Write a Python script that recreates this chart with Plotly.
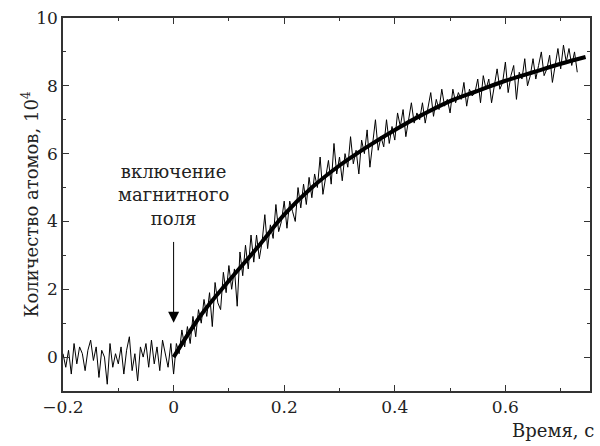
import numpy as np
import plotly.graph_objects as go

# Measured (noisy) signal, time step 0.005 s starting at -0.2 s
noisy_pre = [0.1, -0.3, 0.2, -0.5, 0.4, -0.2, 0.3, 0.1, -0.4, 0.2,
             0.5, -0.1, 0.3, -0.6, 0.2, 0.0, -0.8, 0.4, -0.3, 0.1,
             -0.2, 0.3, -0.5, 0.2, 0.6, -0.4, 0.1, -0.7, 0.3, 0.0,
             0.4, -0.3, 0.5, -0.2, 0.3, -0.4, 0.5, 0.1, -0.3, 0.4]
noisy_post = [-0.5, 0.4, 0.1, 0.8, 0.3, 0.9, 0.4, 1.2, 0.6, 1.4,
              1.0, 1.7, 1.2, 1.9, 0.9, 2.2, 1.6, 1.4, 2.5, 1.9,
              2.7, 2.0, 2.6, 1.5, 3.1, 2.4, 3.3, 2.6, 3.6, 2.8,
              3.6, 2.9, 3.4, 4.2, 3.2, 3.9, 3.5, 4.5, 3.7, 4.0,
              4.6, 3.8, 4.6, 4.3, 4.0, 5.0, 4.4, 5.1, 4.5, 5.3,
              4.7, 5.4, 5.0, 5.9, 4.8, 5.3, 5.8, 5.1, 6.3, 5.4,
              5.9, 5.2, 6.0, 5.6, 6.5, 5.7, 6.1, 5.4, 6.4, 6.0,
              6.7, 5.6, 6.4, 7.0, 6.1, 6.5, 6.2, 7.0, 6.3, 6.8,
              6.4, 7.2, 6.8, 7.3, 6.5, 7.0, 7.5, 6.9, 7.2, 7.0,
              7.5, 6.9, 7.3, 7.8, 7.1, 7.6, 7.3, 7.9, 7.4, 7.6,
              7.2, 7.9, 7.5, 7.8, 7.6, 8.1, 7.4, 7.9, 7.7, 7.8,
              8.2, 7.5, 8.3, 7.9, 8.2, 7.5, 8.0, 8.5, 7.9, 8.1,
              8.7, 7.8, 8.3, 8.6, 7.6, 8.4, 8.2, 8.8, 8.0, 8.3,
              8.8, 8.2, 8.6, 9.0, 8.3, 8.5, 8.9, 8.1, 8.6, 9.1,
              8.5, 9.2, 8.7, 9.1, 8.6, 9.0, 8.4]
noisy_vals = noisy_pre + noisy_post
t_start = -0.2
t_step = 0.005
noisy_t = [round(t_start + t_step * i, 3) for i in range(len(noisy_vals))]

# Smooth fit curve
fit_t = [0.00, 0.05, 0.10, 0.15, 0.20, 0.25, 0.30, 0.35, 0.40, 0.45,
         0.50, 0.55, 0.60, 0.65, 0.70, 0.745]
fit_vals = [0.0, 1.25, 2.25, 3.2, 4.2, 5.0, 5.65, 6.2, 6.7, 7.15,
            7.55, 7.85, 8.15, 8.4, 8.65, 8.85]

x_tickvals = [-0.2, 0, 0.2, 0.4, 0.6]
x_ticktext = ["\u22120.2", "0", "0.2", "0.4", "0.6"]
y_tickvals = [0, 2, 4, 6, 8, 10]

FONT = "DejaVu Serif"

fig = go.Figure()
fig.add_trace(go.Scatter(x=noisy_t, y=noisy_vals, mode="lines",
                         line=dict(color="black", width=1), showlegend=False))
fig.add_trace(go.Scatter(x=fit_t, y=fit_vals, mode="lines",
                         line=dict(color="black", width=4, shape="spline"),
                         showlegend=False))

axis_common = dict(showline=True, linecolor="#333", linewidth=1.5, mirror="ticks",
                   ticks="inside", ticklen=6, tickwidth=1.2, tickcolor="#333",
                   showgrid=False, zeroline=False,
                   tickfont=dict(family=FONT, size=17, color="#222"))

fig.update_xaxes(range=[-0.2, 0.753], tickvals=x_tickvals, ticktext=x_ticktext,
                 minor=dict(dtick=0.1, tick0=0, ticks="inside", ticklen=3,
                            tickcolor="#333", tickwidth=1),
                 **axis_common)
fig.update_yaxes(range=[-1, 10], tickvals=y_tickvals,
                 minor=dict(dtick=1, tick0=0, ticks="inside", ticklen=3,
                            tickcolor="#333", tickwidth=1),
                 **axis_common)

# Arrow
fig.add_annotation(x=0, y=1.01, ax=0, ay=3.44, xref="x", yref="y",
                   axref="x", ayref="y", text="", showarrow=True,
                   arrowhead=2, arrowsize=2.2, arrowwidth=1, arrowcolor="black")
# Arrow label
fig.add_annotation(x=0, y=4.78, xref="x", yref="y", showarrow=False,
                   text="включение<br>магнитного<br>поля",
                   font=dict(family=FONT, size=18, color="#222"),
                   xanchor="center", yanchor="middle", align="center")
# Axis titles
fig.add_annotation(x=1, y=0, xref="paper", yref="paper", xanchor="right",
                   yanchor="top", xshift=6, yshift=-27, showarrow=False,
                   text="Время, с", font=dict(family=FONT, size=18, color="#222"))
fig.add_annotation(x=0, y=0.5, xref="paper", yref="paper", xanchor="center",
                   yanchor="middle", xshift=-33, showarrow=False, textangle=-90,
                   text="Количество атомов, 10<sup>4</sup>",
                   font=dict(family=FONT, size=18, color="#222"))

fig.update_layout(width=600, height=446, margin=dict(l=63, r=8, t=12, b=55),
                  plot_bgcolor="white", paper_bgcolor="white")
# Remove the default page margin so the figure fills the 600x446 window
fig.write_html("out.html", config={"displayModeBar": False},
               post_script="document.body.style.margin='0px';")
